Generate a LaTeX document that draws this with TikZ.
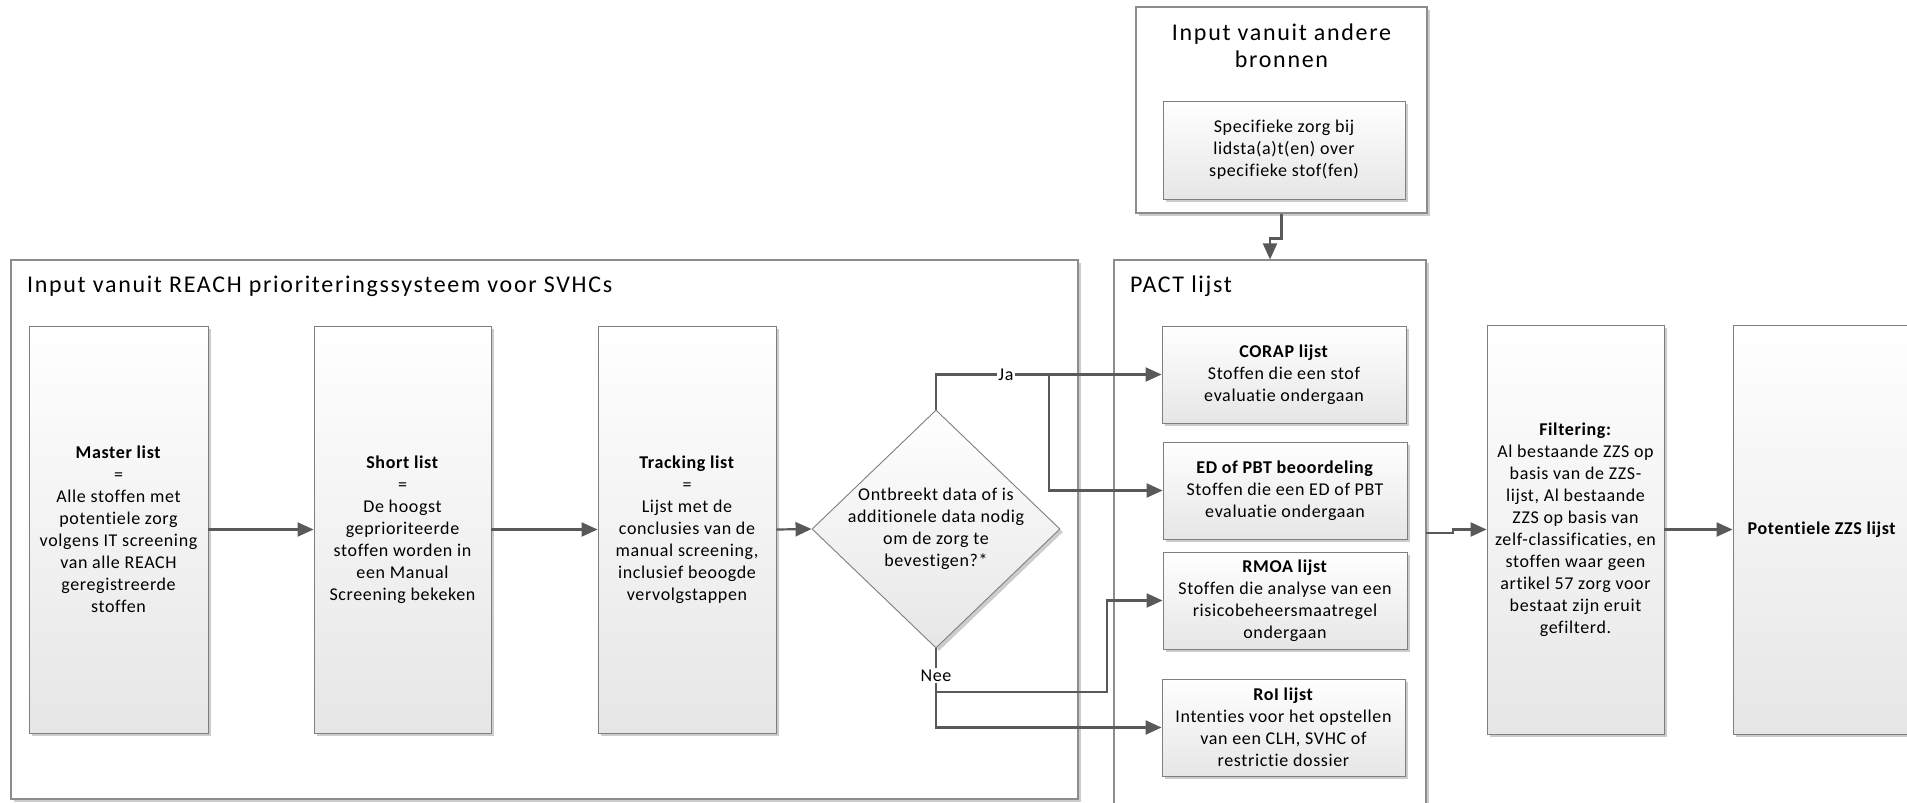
\documentclass[tikz,border=0pt]{standalone}
\usepackage{fontspec}
\setmainfont{Carlito}[LetterSpace=3.5,Ligatures=NoCommon]
\newfontfamily\ttlfont{Carlito}[LetterSpace=7,Ligatures=NoCommon]
\usetikzlibrary{arrows.meta,shapes.geometric,shadows}
\definecolor{linec}{HTML}{595959}
\definecolor{boxborder}{HTML}{7F7F7F}
\definecolor{contborder}{HTML}{8C8C8C}
\definecolor{shadowc}{HTML}{CCCCCC}
\definecolor{grad}{HTML}{E6E6E6}
\tikzset{
 shad/.style={drop shadow={shadow xshift=3pt,shadow yshift=-3pt,fill=shadowc,opacity=1}},
 box/.style={draw=boxborder, line width=0.9pt, top color=white, bottom color=grad, shad, align=center, font=\fontsize{18}{22}\selectfont, inner sep=0pt},
 cont/.style={draw=contborder, line width=1.1pt, fill=white, shad, inner sep=0pt},
 conn/.style={draw=linec, line width=2.2pt, -{Triangle[length=16pt,width=14pt]}},
 lbl/.style={fill=white, inner sep=1.5pt, font=\fontsize{18}{22}\selectfont},
 ttl/.style={font=\ttlfont\fontsize{24}{27}\selectfont, align=center, inner sep=0pt},
 txt/.style={font=\fontsize{18}{22}\selectfont, align=center, inner sep=0pt},
}
\begin{document}
\begin{tikzpicture}[x=1pt,y=-1pt]
\useasboundingbox (0,0) rectangle (1907,803);
\clip (0,0) rectangle (1907,803);
\fill[white] (0,0) rectangle (1907,803);
% containers
\node[cont, minimum width=1067pt, minimum height=539pt] (reach) at (544.5,529.5) {};
\node[ttl, anchor=west] (reacht) at (27,286) {Input vanuit REACH prioriteringssysteem voor SVHCs};
\node[cont, minimum width=291pt, minimum height=206pt] (andere) at (1281.5,110) {};
\node[ttl] (anderet) at (1281.5,46) {Input vanuit andere\\bronnen};
\node[cont, minimum width=312pt, minimum height=600pt] (pact) at (1270,560) {};
\node[ttl, anchor=west] (pactt) at (1130,286) {PACT lijst};
% boxes
\node[box, minimum width=242pt, minimum height=98pt] (spec) at (1284,150) {Specifieke zorg bij\\lidsta(a)t(en) over\\specifieke stof(fen)};
\node[box, minimum width=179pt, minimum height=407pt] (master) at (118.5,529.5) {\textbf{Master list}\\=\\Alle stoffen met\\potentiele zorg\\volgens IT screening\\van alle REACH\\geregistreerde\\stoffen};
\node[box, minimum width=177pt, minimum height=407pt] (short) at (402.5,529.5) {\textbf{Short list}\\=\\De hoogst\\geprioriteerde\\stoffen worden in\\een Manual\\Screening bekeken};
\node[box, minimum width=178pt, minimum height=407pt] (track) at (687,529.5) {\textbf{Tracking list}\\=\\Lijst met de\\conclusies van de\\manual screening,\\inclusief beoogde\\vervolgstappen};
\node[box, diamond, minimum width=248pt, minimum height=238pt] (dia) at (936,529) {};
\node[txt] (diat) at (936,529) {Ontbreekt data of is\\additionele data nodig\\om de zorg te\\bevestigen?*};
\node[box, minimum width=244pt, minimum height=97pt] (corap) at (1284,374.5) {\textbf{CORAP lijst}\\Stoffen die een stof\\evaluatie ondergaan};
\node[box, minimum width=244pt, minimum height=97pt] (ed) at (1285,490.5) {\textbf{ED of PBT beoordeling}\\Stoffen die een ED of PBT\\evaluatie ondergaan};
\node[box, minimum width=244pt, minimum height=97pt] (rmoa) at (1285,600.5) {\textbf{RMOA lijst}\\Stoffen die analyse van een\\risicobeheersmaatregel\\ondergaan};
\node[box, minimum width=243pt, minimum height=97pt] (roi) at (1283.5,727.5) {\textbf{RoI lijst}\\Intenties voor het opstellen\\van een CLH, SVHC of\\restrictie dossier};
\node[box, minimum width=177pt, minimum height=409pt] (filt) at (1575.5,529.5) {\textbf{Filtering:}\\Al bestaande ZZS op\\basis van de ZZS-\\lijst, Al bestaande\\ZZS op basis van\\zelf-classificaties, en\\stoffen waar geen\\artikel 57 zorg voor\\bestaat zijn eruit\\gefilterd.};
\node[box, minimum width=178pt, minimum height=409pt] (pot) at (1822,529.5) {\textbf{Potentiele ZZS lijst}};
% connectors
\draw[conn] (master.east) -- (short.west);
\draw[conn] (short.east) -- (track.west);
\draw[conn] (track.east) -- (dia.west);
\coordinate (jab) at (1049,374.5);
\draw[conn] (jab) |- (ed.west);
\draw[conn] (dia.north) |- (corap.west) node[lbl, pos=0.655] (ja) {Ja};
\coordinate (neeb) at (936,692);
\coordinate (neec) at (1107,692);
\draw[conn] (neeb) -- (neec) |- (rmoa.west);
\draw[conn] (dia.south) |- (roi.west) node[lbl, pos=0.17] (nee) {Nee};
\draw[conn] (andere.south) -- ++(0,25) -| (pact.north);
\coordinate (pout) at (1426,533);
\coordinate (pjog) at (1453,533);
\draw[conn] (pout) -- (pjog) -- ++(0,-3.5) -- (filt.west);
\draw[conn] (filt.east) -- (pot.west);
\end{tikzpicture}
\end{document}
